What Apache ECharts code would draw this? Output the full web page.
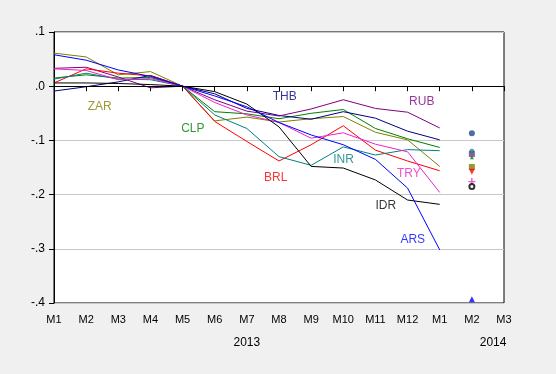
<!DOCTYPE html>
<html>
<head>
<meta charset="utf-8">
<script src="https://cdn.jsdelivr.net/npm/echarts@6/dist/echarts.min.js"></script>
<style>
html,body{margin:0;padding:0;background:#f0f0f0;}
#chart{width:556px;height:374px;}
</style>
</head>
<body>
<div id="chart"></div>
<script>
// Month positions: 0 = M1 2013 ... 12 = M1 2014, 13 = M2 2014, 14 = M3 2014
const tickLabels = ['M1','M2','M3','M4','M5','M6','M7','M8','M9','M10','M11','M12','M1','M2','M3'];
const monthIdx = [0,1,2,3,4,5,6,7,8,9,10,11,12];
const years = ['2013','2014'];
const yearPos = [6, 13.66];

const currencies = ['ZAR','CLP','THB','RUB','BRL','INR','TRY','IDR','ARS'];
const colors = ['#808000','#008000','#000080','#800080','#ff0000','#008080','#ee22cc','#000000','#0000ff'];

const ZAR = [0.061, 0.054, 0.021, 0.027, 0, -0.064, -0.057, -0.066, -0.060, -0.056, -0.085, -0.099, -0.148];
const CLP = [0.015, 0.021, 0.015, 0.016, 0, -0.047, -0.051, -0.060, -0.050, -0.043, -0.078, -0.097, -0.113];
const THB = [-0.009, -0.001, 0.008, 0.020, 0, -0.014, -0.041, -0.054, -0.061, -0.047, -0.059, -0.083, -0.099];
const RUB = [0.033, 0.035, 0.017, -0.003, 0, -0.025, -0.046, -0.055, -0.042, -0.025, -0.041, -0.048, -0.077];
const BRL = [0.006, 0.032, 0.024, 0.019, 0, -0.065, -0.102, -0.138, -0.108, -0.073, -0.118, -0.138, -0.156];
const INR = [0.013, 0.024, 0.013, 0.012, 0, -0.053, -0.078, -0.130, -0.146, -0.112, -0.127, -0.117, -0.119];
const TRY = [0.032, 0.029, 0.012, 0.014, 0, -0.030, -0.053, -0.067, -0.096, -0.086, -0.107, -0.121, -0.196];
const IDR = [0.006, 0.006, 0.005, 0.003, 0, -0.010, -0.033, -0.075, -0.148, -0.151, -0.173, -0.210, -0.218];
const ARS = [0.058, 0.048, 0.030, 0.018, 0, -0.018, -0.038, -0.067, -0.090, -0.108, -0.135, -0.188, -0.302];
const lineValues = [ZAR, CLP, THB, RUB, BRL, INR, TRY, IDR, ARS];

// February 2014 values (shown as markers at M2 2014)
const febPos = 13;
const feb2014 = [-0.149, -0.131, -0.087, -0.125, -0.158, -0.120, -0.176, -0.185, -0.393];

// Series name annotations: [x (month index), y]
const labelX = [1.42, 4.32, 7.18, 11.44, 6.90, 9.01, 11.04, 10.32, 11.16];
const labelY = [-0.038, -0.079, -0.020, -0.029, -0.169, -0.136, -0.162, -0.221, -0.284];

const plusPath = 'path://M4,0 L6,0 L6,4 L10,4 L10,6 L6,6 L6,10 L4,10 L4,6 L0,6 L0,4 L4,4 Z';
const markerSymbols = ['rect','triangle','circle','rect','path://M0,0 L10,0 L5,9 Z','circle',plusPath,'emptyCircle','triangle'];
const markerSizes = [6,4,6,6,6,5,7,5,6];
const markerColors = ['#808000','#008000','#1f4a8a','#6a3a8a','#ff0000','#2a8080','#ee22cc','#000000','#0000ff'];

const FONT = "'Liberation Sans', Arial, sans-serif";

const series = [];
currencies.forEach((c, k) => {
  series.push({
    name: c, type: 'line',
    data: monthIdx.map((m, j) => [m, lineValues[k][j]]),
    symbol: 'none', smooth: false,
    lineStyle: {color: colors[k], width: 1},
    itemStyle: {color: colors[k]},
    silent: true, z: 3
  });
});
currencies.forEach((c, k) => {
  series.push({
    name: c + ' Feb', type: 'scatter',
    data: [[febPos, feb2014[k]]],
    symbol: markerSymbols[k], symbolSize: markerSizes[k],
    itemStyle: {color: markerColors[k], borderColor: markerColors[k], borderWidth: markerSymbols[k]==='emptyCircle'?1:0},
    silent: true, z: 4
  });
});
series.push({
  name: 'labels', type: 'scatter', symbolSize: 1,
  itemStyle: {color: 'transparent'},
  data: currencies.map((c, k) => ({
    name: c, value: [labelX[k], labelY[k]],
    label: {color: colors[k] === '#000000' ? '#000' : colors[k]}
  })),
  label: {show: true, position: 'inside', formatter: '{b}', fontSize: 12, fontFamily: FONT},
  silent: true, z: 5
});
series.push({
  name: 'zero', type: 'line', data: [], silent: true,
  markLine: {silent: true, symbol: ['none','none'], label: {show: false},
    lineStyle: {color: '#000', width: 1, type: 'solid'},
    data: [{yAxis: 0}]},
  z: 2
});

const chart = echarts.init(document.getElementById('chart'), null, {renderer: 'canvas'});
chart.setOption({
  animation: false,
  backgroundColor: '#f0f0f0',
  textStyle: {fontFamily: FONT},
  grid: {left: 54, right: 52, top: 32, bottom: 71, containLabel: false,
    show: true, backgroundColor: '#ffffff', borderColor: '#000', borderWidth: 1},
  xAxis: {
    type: 'value', min: 0, max: 14, interval: 1,
    axisLine: {lineStyle: {color: '#000', width: 1}},
    axisTick: {show: true, length: 5, lineStyle: {color: '#000'}},
    axisLabel: {formatter: v => tickLabels[Math.round(v)] || '', color: '#000', fontSize: 11, margin: 11, fontFamily: FONT},
    splitLine: {show: false}
  },
  yAxis: {
    type: 'value', min: -0.4, max: 0.1, interval: 0.1,
    axisLine: {show: true, lineStyle: {color: '#000', width: 1}},
    axisTick: {show: true, length: 5, lineStyle: {color: '#000'}},
    axisLabel: {
      formatter: v => {
        let s = (Math.round(v * 10) / 10).toFixed(1);
        if (s === '-0.0') s = '0.0';
        return s.replace(/^(-?)0\./, '$1.');
      },
      color: '#000', fontSize: 12, margin: 9, fontFamily: FONT
    },
    splitLine: {show: true, lineStyle: {color: '#c8c8c8', width: 1}}
  },
  series: series
});

// Year labels under the month ticks
const yearY = chart.convertToPixel({yAxisIndex: 0}, -0.4) + 40;
chart.setOption({
  graphic: years.map((y, k) => ({
    type: 'text',
    x: chart.convertToPixel({xAxisIndex: 0}, yearPos[k]),
    y: yearY,
    style: {text: y, fill: '#000', font: '12px ' + FONT, textAlign: 'center', textVerticalAlign: 'middle'},
    silent: true
  }))
});
</script>
</body>
</html>
